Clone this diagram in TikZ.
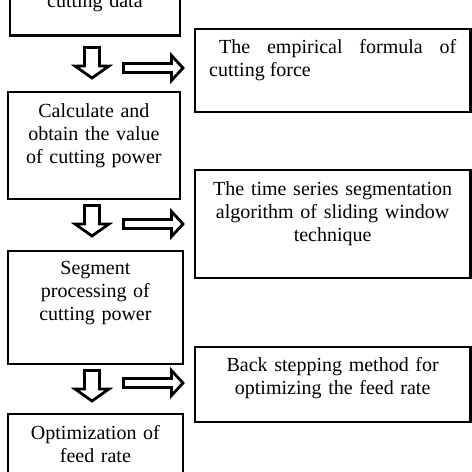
\documentclass[tikz,border=0pt]{standalone}
\usepackage{fontspec}
\setmainfont{Liberation Serif}
\usetikzlibrary{positioning}

\begin{document}
\begin{tikzpicture}[x=1pt,y=-1pt,
  stepbox/.style={draw,line width=2.8pt,inner sep=0pt},
  steptext/.style={anchor=base,align=center,inner sep=0pt,text width=160pt,font=\fontsize{20}{23}\selectfont},
  sidetext/.style={steptext,text width=250pt},
  hollow/.style={draw,line width=2.8pt,fill=white,line join=miter}]
\useasboundingbox (0,0) rectangle (472,472);
% left column
\node[stepbox,minimum width=170pt,minimum height=100pt,anchor=south west] (data) at (8.5,37) {};
\node[steptext] (data txt) at ([yshift=30pt]data.south) {cutting data};
\node[stepbox,minimum width=172pt,minimum height=107pt,anchor=north west] (calc) at (6.5,90.5) {};
\node[steptext] (calc txt) at ([yshift=-26.5pt]calc.north) {Calculate and\\obtain the value\\of cutting power};
\node[stepbox,minimum width=175pt,minimum height=113pt,anchor=north west] (seg) at (6.5,249.5) {};
\node[steptext] (seg txt) at ([yshift=-25pt]seg.north) {Segment\\processing of\\cutting power};
\node[stepbox,minimum width=175pt,minimum height=100pt,anchor=north west] (opt) at (6.5,412.5) {};
\node[steptext] (opt txt) at ([yshift=-26.5pt]opt.north) {Optimization of\\feed rate};
% right column
\node[stepbox,minimum width=275.5pt,minimum height=83pt,anchor=north west] (form) at (193.5,27.5) {};
\node[sidetext,anchor=base west,align=justify,text width=247pt] (form txt) at ([xshift=15.5pt,yshift=-26pt]form.north west) {\hspace*{10pt}The empirical formula of\linebreak cutting force};
\node[stepbox,minimum width=275.5pt,minimum height=108pt,anchor=north west] (series) at (193.5,168.5) {};
\node[sidetext] (series txt) at ([yshift=-26.5pt]series.north) {The time series segmentation\\algorithm of sliding window\\technique};
\node[stepbox,minimum width=275.5pt,minimum height=75pt,anchor=north west] (back) at (193.5,345.5) {};
\node[sidetext] (back txt) at ([yshift=-26pt]back.north) {Back stepping method for\\optimizing the feed rate};
% hollow arrows
\foreach \t/\m in {47.5/68,205.5/224,370.5/383}
{
  \draw[hollow] (84.5,\t) -- ++(15,0) -- ++(0,18.5) -- ++(9.5,0) -- ++(-17,12) -- ++(-17,-12) -- ++(9.5,0) -- cycle;
  \draw[hollow] (123.5,\m-4.5) -- ++(48,0) -- ++(0,-8) -- ++(11.5,12.5) -- ++(-11.5,12.5) -- ++(0,-8) -- ++(-48,0) -- cycle;
}
\end{tikzpicture}
\end{document}
